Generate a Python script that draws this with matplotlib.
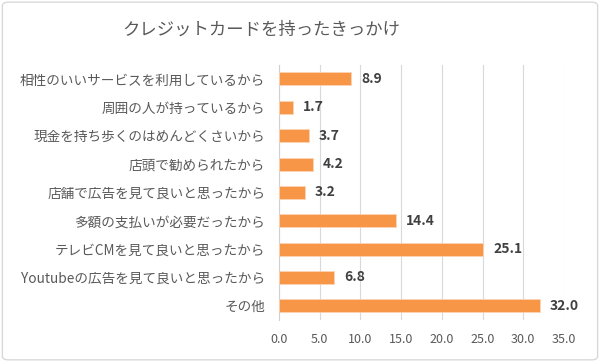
import matplotlib.pyplot as plt
from matplotlib.patches import FancyBboxPatch

plt.rcParams['font.family'] = ['Noto Sans CJK JP', 'DejaVu Sans']

# Data
title = 'クレジットカードを持ったきっかけ'
categories = [
    '相性のいいサービスを利用しているから',
    '周囲の人が持っているから',
    '現金を持ち歩くのはめんどくさいから',
    '店頭で勧められたから',
    '店舗で広告を見て良いと思ったから',
    '多額の支払いが必要だったから',
    'テレビCMを見て良いと思ったから',
    'Youtubeの広告を見て良いと思ったから',
    'その他',
]
values = [8.9, 1.7, 3.7, 4.2, 3.2, 14.4, 25.1, 6.8, 32.0]
x_ticks = [0, 5, 10, 15, 20, 25, 30, 35]

bar_color = '#F79646'
text_gray = '#595959'

fig = plt.figure(figsize=(6, 3.62), dpi=100)
ax = fig.add_axes([0.465, 0.116, 0.475, 0.705])

y = list(range(len(categories)))
ax.barh(y, values, height=0.46, color=bar_color, edgecolor='#FBD3B4', linewidth=0.6, zorder=3)

for yi, v in zip(y, values):
    ax.annotate(f'{v:.1f}', (v, yi), xytext=(7, 0), textcoords='offset points',
                va='center', ha='left', fontsize=10, fontweight='bold', color='#404040')

ax.set_xlim(0, 35)
ax.set_ylim(len(categories) - 0.5, -0.5)
ax.set_yticks(y)
ax.set_yticklabels(categories, fontsize=9.8, color=text_gray)
ax.set_xticks(x_ticks)
ax.set_xticklabels([f'{t:.1f}' for t in x_ticks], fontsize=9, color=text_gray)
ax.tick_params(axis='y', length=0, pad=10)
ax.tick_params(axis='x', length=0, pad=9)

ax.grid(axis='x', color='#D9D9D9', linewidth=0.8, zorder=0)
for s in ['top', 'right', 'bottom']:
    ax.spines[s].set_visible(False)
ax.spines['left'].set_color('#D0D0D0')
ax.spines['left'].set_linewidth(0.8)

fig.text(0.435, 0.918, title, ha='center', va='center', fontsize=12.5, color=text_gray)

# figure border
border = FancyBboxPatch((0.004, 0.006), 0.992, 0.988, boxstyle='round,pad=0,rounding_size=0.01',
                        transform=fig.transFigure, fill=False, edgecolor='#D9D9D9', linewidth=1.0)
fig.patches.append(border)

fig.savefig('out.png', dpi=100)
